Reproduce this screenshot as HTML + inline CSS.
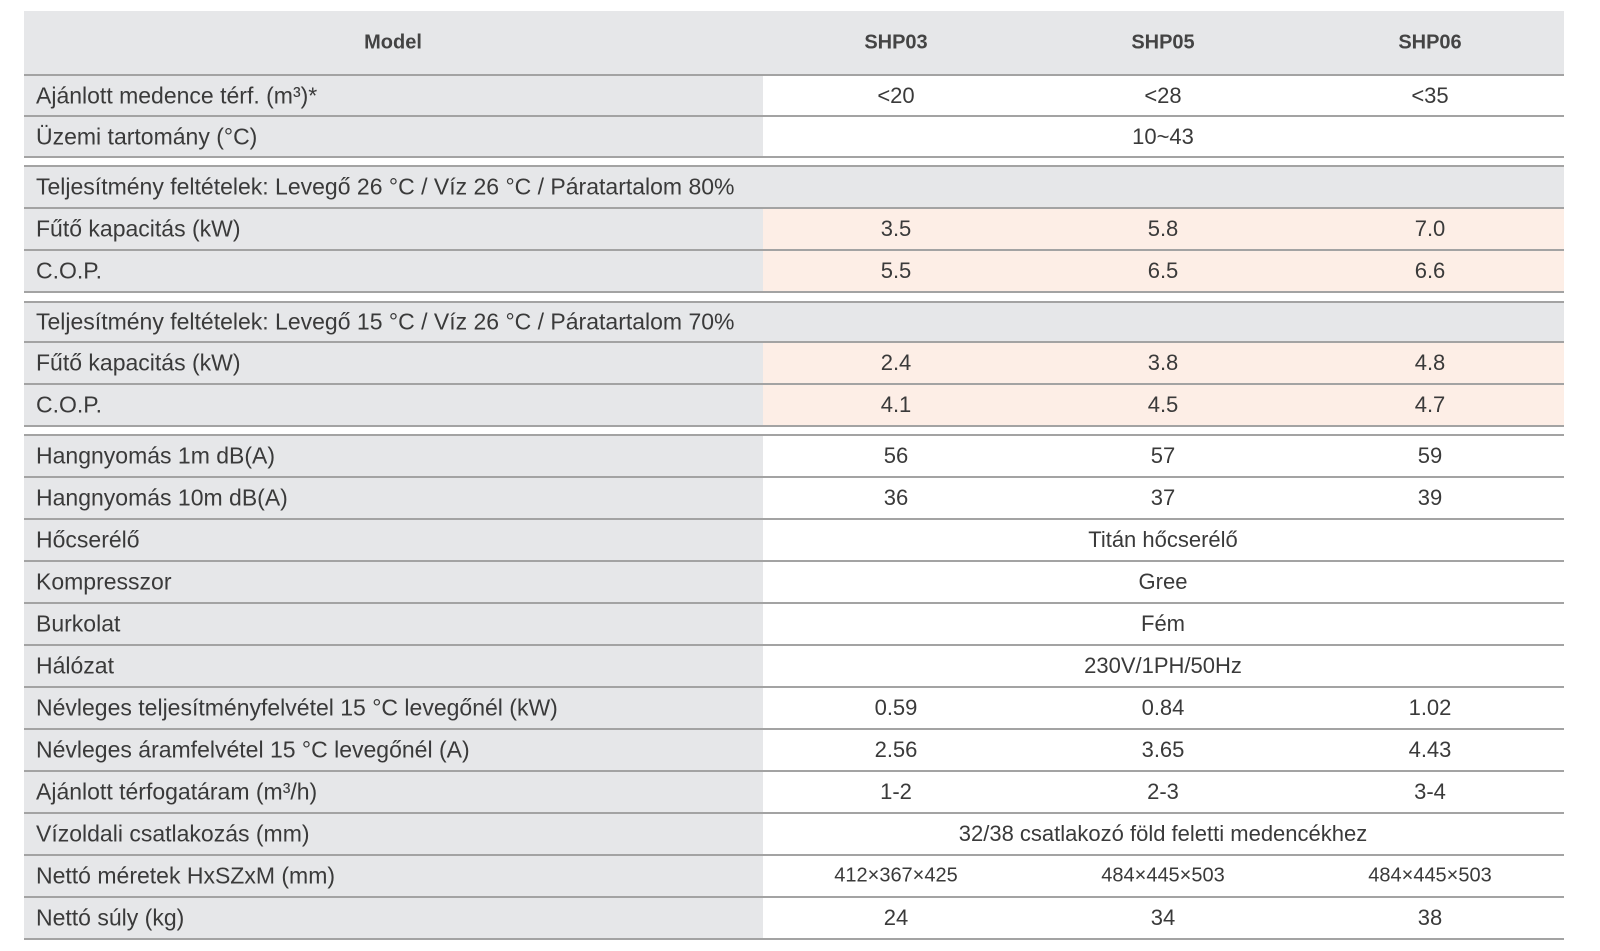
<!DOCTYPE html>
<html><head><meta charset="utf-8"><style>
body{margin:0;width:1600px;height:951px;background:#fff;position:relative;overflow:hidden;font-family:"Liberation Sans",sans-serif;color:#3a3a3a}
.r{position:absolute;left:24px;width:1540px;box-sizing:border-box;border-bottom:2px solid #a3a3a3;background:#fff}
.t{border-top:2px solid #a3a3a3}
.l{position:absolute;left:0;top:0;bottom:0;width:739px;background:#e6e7e9}
.l span{position:absolute;left:12px;top:50%;white-space:nowrap;font-size:23px;transform:translateY(-50%) scaleX(1.0);transform-origin:left center}
.v{position:absolute;top:50%;transform:translate(-50%,-50%);font-size:22px;white-space:nowrap}
.a{left:872px}.b{left:1139px}.c{left:1406px}
.p{position:absolute;left:739px;right:0;top:0;bottom:0;background:#fdeee6}
.s{background:#e6e7e9}
.s .l{width:1540px}
.h{background:#e6e7e9}
.h .v{font-weight:bold;font-size:20px;color:#444}
.sm{font-size:20px}
</style></head><body>
<div class="r h" style="top:11px;height:65px"><div class="v" style="left:369px">Model</div><div class="v a">SHP03</div><div class="v b">SHP05</div><div class="v c">SHP06</div></div>
<div class="r" style="top:76px;height:41px"><div class="l"><span>Ajánlott medence térf. (m³)*</span></div><div class="v a">&lt;20</div><div class="v b">&lt;28</div><div class="v c">&lt;35</div></div>
<div class="r" style="top:117px;height:41px"><div class="l"><span>Üzemi tartomány (°C)</span></div><div class="v b">10~43</div></div>

<div class="r t s" style="top:165px;height:44px"><div class="l"><span>Teljesítmény feltételek: Levegő 26 °C / Víz 26 °C / Páratartalom 80%</span></div></div>
<div class="r" style="top:209px;height:42px"><div class="p"></div><div class="l"><span>Fűtő kapacitás (kW)</span></div><div class="v a">3.5</div><div class="v b">5.8</div><div class="v c">7.0</div></div>
<div class="r" style="top:251px;height:42px"><div class="p"></div><div class="l"><span>C.O.P.</span></div><div class="v a">5.5</div><div class="v b">6.5</div><div class="v c">6.6</div></div>

<div class="r t s" style="top:301px;height:42px"><div class="l"><span>Teljesítmény feltételek: Levegő 15 °C / Víz 26 °C / Páratartalom 70%</span></div></div>
<div class="r" style="top:343px;height:42px"><div class="p"></div><div class="l"><span>Fűtő kapacitás (kW)</span></div><div class="v a">2.4</div><div class="v b">3.8</div><div class="v c">4.8</div></div>
<div class="r" style="top:385px;height:42px"><div class="p"></div><div class="l"><span>C.O.P.</span></div><div class="v a">4.1</div><div class="v b">4.5</div><div class="v c">4.7</div></div>

<div class="r t" style="top:434px;height:44px"><div class="l"><span>Hangnyomás 1m dB(A)</span></div><div class="v a">56</div><div class="v b">57</div><div class="v c">59</div></div>
<div class="r" style="top:478px;height:42px"><div class="l"><span>Hangnyomás 10m dB(A)</span></div><div class="v a">36</div><div class="v b">37</div><div class="v c">39</div></div>
<div class="r" style="top:520px;height:42px"><div class="l"><span>Hőcserélő</span></div><div class="v b">Titán hőcserélő</div></div>
<div class="r" style="top:562px;height:42px"><div class="l"><span>Kompresszor</span></div><div class="v b">Gree</div></div>
<div class="r" style="top:604px;height:42px"><div class="l"><span>Burkolat</span></div><div class="v b">Fém</div></div>
<div class="r" style="top:646px;height:42px"><div class="l"><span>Hálózat</span></div><div class="v b">230V/1PH/50Hz</div></div>
<div class="r" style="top:688px;height:42px"><div class="l"><span>Névleges teljesítményfelvétel 15 °C levegőnél (kW)</span></div><div class="v a">0.59</div><div class="v b">0.84</div><div class="v c">1.02</div></div>
<div class="r" style="top:730px;height:42px"><div class="l"><span>Névleges áramfelvétel 15 °C levegőnél (A)</span></div><div class="v a">2.56</div><div class="v b">3.65</div><div class="v c">4.43</div></div>
<div class="r" style="top:772px;height:42px"><div class="l"><span>Ajánlott térfogatáram (m³/h)</span></div><div class="v a">1-2</div><div class="v b">2-3</div><div class="v c">3-4</div></div>
<div class="r" style="top:814px;height:42px"><div class="l"><span>Vízoldali csatlakozás (mm)</span></div><div class="v b">32/38 csatlakozó föld feletti medencékhez</div></div>
<div class="r" style="top:856px;height:42px"><div class="l"><span>Nettó méretek HxSZxM (mm)</span></div><div class="v a sm">412×367×425</div><div class="v b sm">484×445×503</div><div class="v c sm">484×445×503</div></div>
<div class="r" style="top:898px;height:42px"><div class="l"><span>Nettó súly (kg)</span></div><div class="v a">24</div><div class="v b">34</div><div class="v c">38</div></div>
</body></html>
